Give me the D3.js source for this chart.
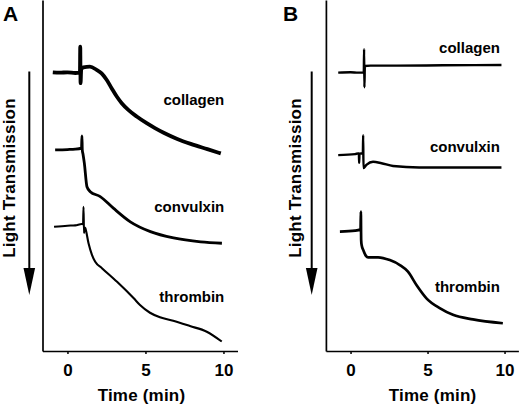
<!DOCTYPE html>
<html>
<head>
<meta charset="utf-8">
<script src="https://cdn.jsdelivr.net/npm/d3@7"></script>
<style>
  body { margin: 0; background: #fff; }
  text { font-family: "Liberation Sans", Arial, sans-serif; font-weight: bold; fill: #000; }
</style>
</head>
<body>
<div id="chart"></div>
<script>
// Aggregation traces, [time (min), light transmission (arbitrary units, increasing downward)]
const aCollagen = [[-0.94, 20.6], [-0.5, 20.7], [0, 20.6], [0.5, 20.8], [0.8, 20.7], [0.82, 13.3], [0.84, 23.7],
  [0.88, 19.9], [1.02, 19.2], [1.44, 19.0], [1.87, 19.9], [2.19, 20.9], [2.52, 22.8], [2.84, 25.2], [3.16, 27.5],
  [3.48, 29.4], [3.9, 31.3], [4.44, 33.2], [5.08, 35.1], [5.61, 36.5], [6.2, 37.9], [7.04, 39.6], [7.9, 41.0],
  [8.97, 42.5], [9.83, 43.7]];
const aConvulxin = [[-0.79, 42.7], [0, 42.6], [0.5, 42.5], [0.9, 42.2], [0.93, 38.7], [0.95, 42.7], [1.0, 44.0],
  [1.08, 46.4], [1.25, 53.2], [1.46, 54.6], [2.1, 56.0], [2.94, 59.3], [4.03, 63.2], [5.32, 66.0], [6.8, 67.8],
  [8.54, 68.9], [9.9, 69.3]];
const aThrombin = [[-0.86, 64.6], [0, 64.3], [0.5, 64.2], [0.92, 63.8], [1.0, 63.9], [1.03, 58.9], [1.06, 66.4],
  [1.1, 64.8], [1.14, 65.0], [1.35, 69.3], [1.57, 72.6], [1.78, 74.6], [2.21, 76.4], [3.18, 80.3], [4.25, 85.0],
  [4.65, 86.9], [5.29, 89.1], [5.93, 90.4], [6.78, 91.4], [7.85, 92.9], [8.93, 94.5], [9.89, 97.3]];

const bCollagen = [[-0.8, 20.7], [0, 20.6], [0.5, 20.7], [0.86, 20.7], [0.88, 14.0], [0.9, 24.9], [0.93, 18.8],
  [1.3, 18.7], [3, 18.7], [6, 18.6], [9.8, 18.5]];
const bConvulxin = [[-0.8, 44.2], [0.3, 43.9], [0.5, 43.7], [0.54, 43.7], [0.56, 46.4], [0.58, 43.8], [0.8, 43.7],
  [0.82, 38.5], [0.84, 47.9], [1.03, 47.0], [1.46, 46.1], [2.01, 46.5], [2.76, 47.3], [4.46, 47.7], [9.8, 47.7]];
const bThrombin = [[-0.69, 66.0], [0.3, 65.7], [0.65, 65.3], [0.67, 60.3], [0.69, 68.4], [0.72, 69.8], [0.85, 71.5],
  [1.0, 72.9], [1.14, 73.3], [1.79, 73.3], [2.55, 74.1], [3.2, 75.5], [3.73, 77.4], [4.28, 81.2], [4.93, 85.0],
  [5.79, 87.8], [6.65, 89.7], [7.95, 91.0], [9.89, 92.1]];

const agonists = ["collagen", "convulxin", "thrombin"];
const panelLetters = ["A", "B"];
const xTicks = [0, 5, 10];
const xTitle = "Time (min)";
const yTitle = "Light Transmission";

// Layout per panel
const panels = [
  { letter: panelLetters[0], traces: [aCollagen, aConvulxin, aThrombin], left: 42.5, right: 237.5,
    widths: [3.8, 2.8, 2.1], labelT: 10.05, labelY: [29.9, 60.3, 86.0], titleShift: -4,
    letterX: 3, arrowX: 29.3, yTitleX: 15 },
  { letter: panelLetters[1], traces: [bCollagen, bConvulxin, bThrombin], left: 325.9, right: 518.4,
    widths: [2.4, 2.4, 2.7], labelT: 9.7, labelY: [15.0, 43.2, 83.1], titleShift: 5,
    letterX: 283, arrowX: 311.7, yTitleX: 300.5 }
];

const width = 520;
const height = 408;
const plotBottom = 351;

const svg = d3.select("#chart")
  .append("svg")
  .attr("width", width)
  .attr("height", height);

const y = d3.scaleLinear().domain([0, 100]).range([0, plotBottom]);

panels.forEach((p) => {
  const x = d3.scaleLinear().domain([-1.6, 10.9]).range([p.left, p.right]);
  const g = svg.append("g");

  // axes
  const xAxis = g.append("g")
    .attr("transform", `translate(0,${plotBottom})`)
    .call(d3.axisBottom(x).tickValues(xTicks).tickSize(3).tickSizeOuter(0).tickPadding(10));
  xAxis.select(".domain").attr("stroke", "#000").attr("stroke-width", 1.7);
  xAxis.selectAll(".tick line").attr("stroke", "#000").attr("stroke-width", 1.5);
  xAxis.selectAll(".tick text")
    .style("font-size", "17px");

  const yAxis = g.append("g")
    .attr("transform", `translate(${p.left},0)`)
    .call(d3.axisLeft(y).tickValues([]).tickSizeOuter(0));
  yAxis.select(".domain").attr("stroke", "#000").attr("stroke-width", 1.7);

  // traces
  const line = d3.line()
    .x((d) => x(d[0]))
    .y((d) => y(d[1]))
    .curve(d3.curveMonotoneX);

  g.selectAll("path.trace")
    .data(p.traces)
    .enter()
    .append("path")
    .attr("class", "trace")
    .attr("d", line)
    .attr("fill", "none")
    .attr("stroke", "#000")
    .attr("stroke-width", (d, i) => p.widths[i])
    .attr("stroke-linejoin", "round");

  g.selectAll("text.agonist")
    .data(agonists)
    .enter()
    .append("text")
    .attr("class", "agonist")
    .attr("x", x(p.labelT))
    .attr("y", (d, i) => y(p.labelY[i]))
    .attr("text-anchor", "end")
    .style("font-size", "15px")
    .text((d) => d);

  // titles
  g.append("text")
    .attr("x", x(5) + p.titleShift)
    .attr("y", 401)
    .attr("text-anchor", "middle")
    .style("font-size", "17px")
    .style("letter-spacing", "0.2px")
    .text(xTitle);

  g.append("text")
    .attr("transform", `translate(${p.yTitleX},178) rotate(-90)`)
    .attr("text-anchor", "middle")
    .style("font-size", "17px")
    .style("letter-spacing", "0.2px")
    .text(yTitle);

  g.append("text")
    .attr("x", p.letterX)
    .attr("y", 21)
    .style("font-size", "21px")
    .text(p.letter);

  // downward arrow
  g.append("line")
    .attr("x1", p.arrowX).attr("x2", p.arrowX)
    .attr("y1", 71.5).attr("y2", 272)
    .attr("stroke", "#000")
    .attr("stroke-width", 2);
  g.append("path")
    .attr("d", `M${p.arrowX - 5.8},268L${p.arrowX + 5.8},268L${p.arrowX},295Z`)
    .attr("fill", "#000");
});
</script>
</body>
</html>
